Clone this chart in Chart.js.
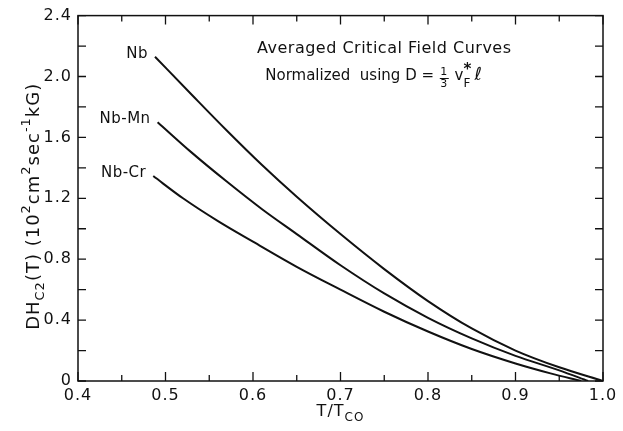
<!DOCTYPE html>
<html><head><meta charset="utf-8">
<style>html,body{margin:0;padding:0;background:#fff}#wrap{width:623px;height:431px}</style>
<script src="https://cdn.jsdelivr.net/npm/chart.js@4/dist/chart.umd.min.js"></script>
</head><body><div id="wrap"><canvas id="c" width="623" height="431"></canvas></div>
<script>
// ---- data ----
const T_TICKS = [0.4, 0.5, 0.6, 0.7, 0.8, 0.9, 1.0];
const H_TICKS = [0, 0.4, 0.8, 1.2, 1.6, 2.0, 2.4];
const SERIES_NAMES = ['Nb', 'Nb-Mn', 'Nb-Cr'];
const NB_T  = [0.488, 0.53, 0.57, 0.61, 0.65, 0.70, 0.75, 0.80, 0.85, 0.90, 0.95, 1.0];
const NB_H  = [2.13, 1.88, 1.645, 1.42, 1.21, 0.965, 0.735, 0.525, 0.345, 0.20, 0.09, 0];
const MN_T  = [0.491, 0.53, 0.57, 0.61, 0.65, 0.70, 0.75, 0.80, 0.85, 0.90, 0.95, 0.983];
const MN_H  = [1.70, 1.50, 1.31, 1.13, 0.965, 0.76, 0.575, 0.415, 0.28, 0.165, 0.07, 0];
const CR_T  = [0.486, 0.52, 0.56, 0.60, 0.65, 0.70, 0.75, 0.80, 0.85, 0.90, 0.94, 0.975];
const CR_H  = [1.346, 1.20, 1.05, 0.915, 0.75, 0.60, 0.455, 0.325, 0.21, 0.115, 0.05, 0];
const TITLE_1 = 'Averaged Critical Field Curves';

const FONT = '"DejaVu Sans", sans-serif';
const INK = '#111';

function pts(t, h) { return t.map((v, i) => ({x: v, y: h[i]})); }
function isIn(list, v) { return list.some(a => Math.abs(a - v) < 1e-6); }

function drawRich(ctx, parts, x, y, align, size) {
  const widths = parts.map(([t, m]) => {
    ctx.font = (m ? Math.round(size * 0.72) : size) + 'px ' + FONT;
    return ctx.measureText(t).width;
  });
  const total = widths.reduce((a, b) => a + b, 0);
  let cx = align === 'center' ? x - total / 2 : x;
  parts.forEach(([t, m], i) => {
    ctx.font = (m ? Math.round(size * 0.72) : size) + 'px ' + FONT;
    const dy = m === 'sub' ? size * 0.35 : m === 'sup' ? -size * 0.4 : 0;
    ctx.fillText(t, cx, y + dy);
    cx += widths[i];
  });
  return cx;
}

const spacing = {
  id: 'spacing',
  beforeDraw(chart) { chart.ctx.letterSpacing = '1px'; }
};

const frame = {
  id: 'frame',
  afterDatasetsDraw(chart) {
    const {ctx, chartArea: a, scales: {x, y}} = chart;
    ctx.save();
    ctx.strokeStyle = INK; ctx.lineWidth = 1.5;
    ctx.strokeRect(a.left, a.top, a.right - a.left, a.bottom - a.top);
    ctx.lineWidth = 1.3;
    ctx.beginPath();
    x.ticks.forEach(tk => {
      const px = x.getPixelForValue(tk.value);
      const L = isIn(T_TICKS, tk.value) ? 9 : 6;
      ctx.moveTo(px, a.bottom); ctx.lineTo(px, a.bottom - L);
      ctx.moveTo(px, a.top); ctx.lineTo(px, a.top + L);
    });
    y.ticks.forEach(tk => {
      const py = y.getPixelForValue(tk.value);
      ctx.moveTo(a.left, py); ctx.lineTo(a.left + 8, py);
      ctx.moveTo(a.right, py); ctx.lineTo(a.right - 8, py);
    });
    ctx.stroke();

    ctx.fillStyle = INK;
    ctx.textBaseline = 'middle';
    ctx.letterSpacing = '0.5px';
    chart.data.datasets.forEach((ds, i) => {
      const p = chart.getDatasetMeta(i).data[0];
      ctx.font = '15px ' + FONT;
      ctx.textAlign = 'right';
      ctx.fillText(ds.label, p.x - 7, p.y - 3);
    });
    ctx.textAlign = 'center';
    ctx.font = '16px ' + FONT;
    ctx.fillText(TITLE_1, x.getPixelForValue(0.75), y.getPixelForValue(2.18));
    ctx.textAlign = 'left';
    ctx.letterSpacing = '0px';
    const y2 = y.getPixelForValue(2.0);
    let cx = drawRich(ctx, [['Normalized  using D = ', '']], x.getPixelForValue(0.614), y2, 'left', 15);
    ctx.font = '11px ' + FONT; ctx.textAlign = 'center';
    ctx.fillText('1', cx + 5, y2 - 4);
    ctx.fillText('3', cx + 5, y2 + 8);
    ctx.lineWidth = 1; ctx.beginPath(); ctx.moveTo(cx + 1, y2 + 2); ctx.lineTo(cx + 10, y2 + 2); ctx.stroke();
    ctx.textAlign = 'left';
    cx = drawRich(ctx, [[' v', '']], cx + 11, y2, 'left', 15);
    ctx.font = '12px ' + FONT;
    ctx.fillText('F', cx, y2 + 7);
    ctx.font = 'bold 15px ' + FONT;
    ctx.fillText('*', cx, y2 - 6);
    ctx.font = 'italic 18px ' + FONT;
    ctx.fillText('\u2113', cx + 11, y2 - 1);

    ctx.letterSpacing = '1px';
    drawRich(ctx, [['T/T', ''], ['CO', 'sub']], (a.left + a.right) / 2, 412, 'center', 16);
    ctx.translate(34, (a.top + a.bottom) / 2 + 8);
    ctx.rotate(-Math.PI / 2);
    drawRich(ctx, [['DH', ''], ['C2', 'sub'], ['(T) (10', ''], ['2', 'sup'], ['cm', ''], ['2', 'sup'],
                   ['sec', ''], ['-1', 'sup'], ['kG)', '']], 0, 0, 'center', 18);
    ctx.restore();
  }
};

const mk = (label, t, h) => ({
  label, data: pts(t, h), borderColor: INK, borderWidth: 2, pointRadius: 0,
  fill: false, cubicInterpolationMode: 'monotone'
});

new Chart(document.getElementById('c'), {
  type: 'line',
  data: { datasets: [
    mk(SERIES_NAMES[0], NB_T, NB_H),
    mk(SERIES_NAMES[1], MN_T, MN_H),
    mk(SERIES_NAMES[2], CR_T, CR_H)
  ]},
  options: {
    responsive: false, animation: false, devicePixelRatio: 1,
    layout: { padding: { top: 14, right: 20, left: 0, bottom: 0 } },
    plugins: { legend: { display: false }, tooltip: { enabled: false } },
    scales: {
      x: {
        type: 'linear', min: 0.4, max: 1.0,
        afterFit(s) { s.height = 50; },
        grid: { drawOnChartArea: false, drawTicks: false },
        border: { display: false },
        ticks: {
          stepSize: 0.05, autoSkip: false, maxRotation: 0, padding: 5,
          color: INK, font: { family: FONT, size: 16 },
          callback: v => isIn(T_TICKS, v) ? Number(v).toFixed(1) : ''
        }
      },
      y: {
        min: 0, max: 2.4,
        afterFit(s) { s.width = 78; },
        grid: { drawOnChartArea: false, drawTicks: false },
        border: { display: false },
        ticks: {
          stepSize: 0.2, autoSkip: false, padding: 6,
          color: INK, font: { family: FONT, size: 16 },
          callback: v => isIn(H_TICKS, v) ? (Math.abs(v) < 1e-9 ? '0' : Number(v).toFixed(1)) : ''
        }
      }
    }
  },
  plugins: [spacing, frame]
});
</script></body></html>
